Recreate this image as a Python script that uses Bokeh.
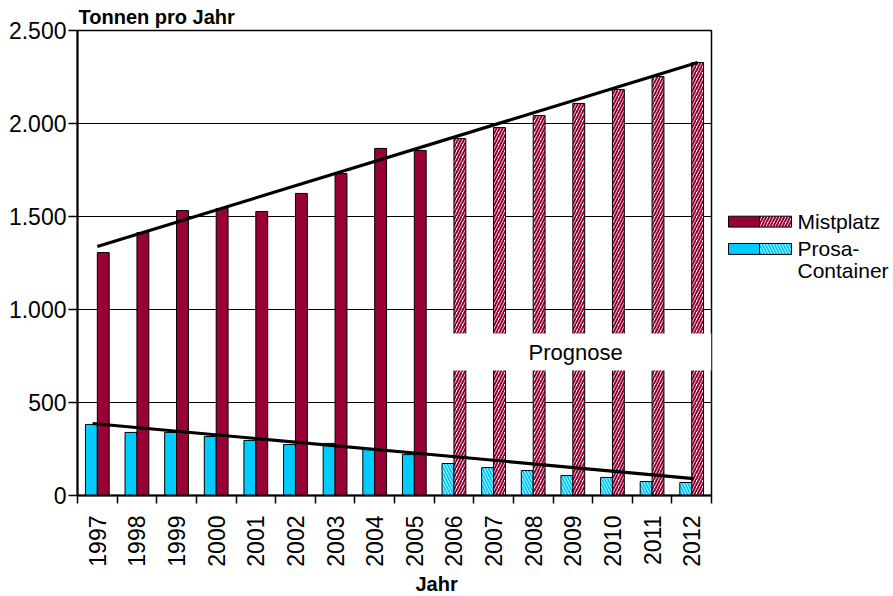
from bokeh.plotting import figure
from bokeh.layouts import row
from bokeh.models import FixedTicker, Range1d, Title, ColumnDataSource
from bokeh.embed import file_html
from bokeh.resources import INLINE
from bokeh.core.properties import value

# ---------------- data ----------------
years = ["1997", "1998", "1999", "2000", "2001", "2002", "2003", "2004",
         "2005", "2006", "2007", "2008", "2009", "2010", "2011", "2012"]
mistplatz = [1306, 1414, 1532, 1543, 1527, 1624, 1731, 1866,
             1855, 1919, 1978, 2043, 2108, 2183, 2253, 2328]
prosa = [382, 339, 339, 317, 296, 274, 280, 247,
         220, 172, 150, 134, 107, 97, 75, 70]
first_forecast_year = "2006"
trend_mistplatz = [1339, 2328]   # value of trend line at 1997 and 2012
trend_prosa = [387, 91]          # value of trend line at 1997 and 2012
prognose_box = [672, 871]        # value range covered by the "Prognose" box
y_ticks = [0, 500, 1000, 1500, 2000, 2500]
y_tick_labels = ["0", "500", "1.000", "1.500", "2.000", "2.500"]

# ---------------- style ----------------
RED = "#990033"
CYAN = "#00CCFF"
FONT = "Liberation Sans"
HW = 2.0
HS = 6

n = len(years)
fi = years.index(first_forecast_year)
idx = list(range(n))

def src(sel):
    return ColumnDataSource(dict(
        xb=[i + 0.35 for i in sel],
        xr=[i + 0.65 for i in sel],
        m=[mistplatz[i] for i in sel],
        p=[prosa[i] for i in sel],
    ))

actual = src(idx[:fi])
forecast = src(idx[fi:])

p = figure(width=725, height=596, frame_width=634, frame_height=465,
           x_range=Range1d(0, n), y_range=Range1d(0, 2500),
           toolbar_location=None, output_backend="svg",
           min_border_left=77, min_border_right=14,
           min_border_top=30, min_border_bottom=101)
p.background_fill_color = "white"
p.border_fill_color = "white"
p.outline_line_color = "black"
p.outline_line_width = 1.5

# bars
bw = 0.3
p.vbar(x="xb", top="p", width=bw, source=actual, fill_color=CYAN,
       line_color="black", line_width=1)
p.vbar(x="xr", top="m", width=bw, source=actual, fill_color=RED,
       line_color="black", line_width=1)
p.vbar(x="xb", top="p", width=bw, source=forecast, fill_color="white",
       hatch_pattern="\\", hatch_color=CYAN, hatch_weight=HW, hatch_scale=HS,
       line_color="black", line_width=1)
p.vbar(x="xr", top="m", width=bw, source=forecast, fill_color="white",
       hatch_pattern="/", hatch_color=RED, hatch_weight=HW, hatch_scale=HS,
       line_color="black", line_width=1)

# Prognose box
p.quad(left=[fi - 0.17], right=[n], bottom=[prognose_box[0]], top=[prognose_box[1]],
       fill_color="white", line_color=None)
p.text(x=[fi + 3.57], y=[sum(prognose_box) / 2], text=["Prognose"],
       text_font=value(FONT), text_font_size="22px", text_color="black",
       text_align="center", text_baseline="middle")

# trend lines
p.line(x=[0.5, n - 0.35], y=trend_mistplatz, line_color="black", line_width=3.2)
p.line(x=[0.38, n - 0.45], y=trend_prosa, line_color="black", line_width=3.2)

# axes
centers = [i + 0.5 for i in idx]
p.xaxis.ticker = FixedTicker(ticks=centers, minor_ticks=list(range(n + 1)))
p.xaxis.major_label_overrides = {c: y for c, y in zip(centers, years)}
p.xaxis.major_label_orientation = 3.14159265 / 2
p.xaxis.major_tick_out = 0
p.xaxis.major_tick_in = 0
p.xaxis.minor_tick_out = 8
p.xaxis.minor_tick_in = 0
p.xaxis.minor_tick_line_color = "black"
p.xaxis.minor_tick_line_width = 1.5
p.xaxis.major_label_standoff = 12

p.yaxis.ticker = FixedTicker(ticks=y_ticks, minor_ticks=[])
p.yaxis.major_label_overrides = {t: l for t, l in zip(y_ticks, y_tick_labels)}
p.yaxis.major_tick_out = 9
p.yaxis.major_tick_in = 0
p.yaxis.minor_tick_out = 0
p.yaxis.minor_tick_in = 0
p.yaxis.major_label_standoff = 2

for ax in (p.xaxis, p.yaxis):
    ax.axis_line_color = "black"
    ax.axis_line_width = 2
    ax.major_tick_line_color = "black"
    ax.major_tick_line_width = 1.5
    ax.major_label_text_font = FONT
    ax.major_label_text_font_size = "23px"
    ax.major_label_text_color = "black"

p.xgrid.visible = False
p.ygrid.ticker = FixedTicker(ticks=y_ticks)
p.ygrid.grid_line_color = "black"
p.ygrid.grid_line_width = 1

# axis titles
p.add_layout(Title(text="Tonnen pro Jahr", align="left", offset=1, standoff=5,
                   text_font=FONT, text_font_size="20px", text_font_style="bold",
                   text_color="black"), "above")
p.add_layout(Title(text="Jahr", align="left", offset=338, standoff=2,
                   text_font=FONT, text_font_size="20px", text_font_style="bold",
                   text_color="black"), "below")

# ---------------- legend figure ----------------
leg = figure(width=168, height=596, x_range=Range1d(0, 168), y_range=Range1d(596, 0),
             toolbar_location=None, output_backend="svg",
             x_axis_location=None, y_axis_location=None,
             min_border=0)
leg.outline_line_color = None
leg.grid.visible = False
leg.background_fill_color = "white"
leg.border_fill_color = "white"

series = [("Mistplatz", RED, "/", 238, 252, ["Mistplatz"]),
          ("Prosa-Container", CYAN, "\\", 273, 287, ["Prosa-", "Container"])]
for name, col, hp, top, bot, lines in series:
    leg.quad(left=[3], right=[34], top=[top], bottom=[bot], fill_color=col,
             line_color="black", line_width=1)
    leg.quad(left=[34], right=[66], top=[top], bottom=[bot], fill_color="white",
             hatch_pattern=hp, hatch_color=col, hatch_weight=HW, hatch_scale=HS,
             line_color="black", line_width=1)
    for k, t in enumerate(lines):
        leg.text(x=[72], y=[(top + bot) / 2 + k * 28], text=[t],
                 text_font=value(FONT), text_font_size="21px", text_color="black",
                 text_align="left", text_baseline="middle")

layout = row(p, leg)
open("out.html", "w").write(file_html(layout, INLINE))
